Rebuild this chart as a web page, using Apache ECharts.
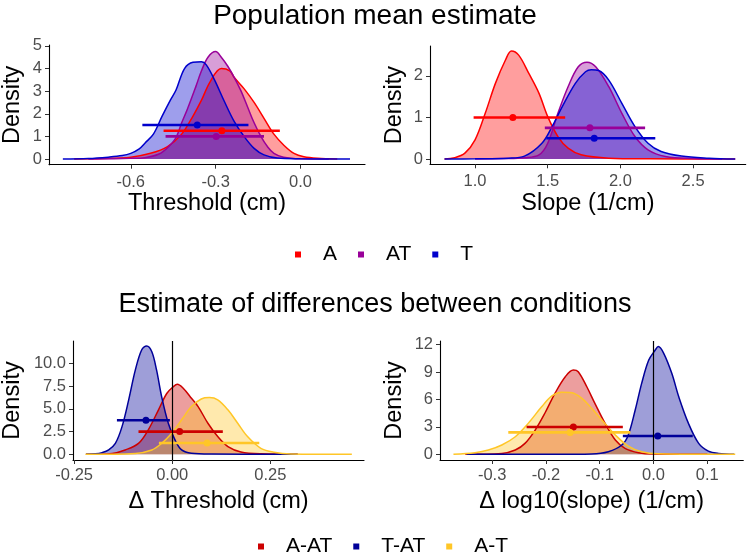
<!DOCTYPE html>
<html>
<head>
<meta charset="utf-8">
<script src="https://cdn.jsdelivr.net/npm/echarts@6/dist/echarts.min.js"></script>
<style>
  html, body { margin: 0; padding: 0; background: #fff; }
  #chart { width: 750px; height: 556px; }
</style>
</head>
<body>
<div id="chart"></div>
<script>
// ---- tick values ----
var ticksThrX = [-0.6, -0.3, 0.0];
var ticksThrY = [0, 1, 2, 3, 4, 5];
var ticksSlpX = [1.0, 1.5, 2.0, 2.5];
var ticksSlpY = [0, 1, 2];
var ticksDThrX = [-0.25, 0.0, 0.25];
var ticksDThrY = [0, 2.5, 5, 7.5, 10];
var ticksDSlpX = [-0.3, -0.2, -0.1, 0.0, 0.1];
var ticksDSlpY = [0, 3, 6, 9, 12];

// ---- groups ----
var groupsTop = ['A', 'AT', 'T'];
var groupsBot = ['A-AT', 'T-AT', 'A-T'];

// ---- densities, threshold ----
var thrA = [[-0.80, 0], [-0.70, 0.02], [-0.60, 0.08], [-0.53, 0.25], [-0.47, 0.55], [-0.42, 1.1], [-0.38, 1.9],
  [-0.35, 2.6], [-0.32, 3.4], [-0.28, 4.0], [-0.25, 3.9], [-0.234, 3.6], [-0.199, 3.1], [-0.164, 2.5],
  [-0.129, 1.8], [-0.094, 1.1], [-0.058, 0.6], [-0.023, 0.25], [0.012, 0.1], [0.06, 0.03], [0.13, 0]];
var thrAT = [[-0.75, 0], [-0.60, 0.03], [-0.55, 0.06], [-0.50, 0.22], [-0.47, 0.5], [-0.44, 0.95], [-0.42, 1.6],
  [-0.40, 2.2], [-0.37, 3.2], [-0.35, 3.9], [-0.327, 4.5], [-0.30, 4.75], [-0.28, 4.5], [-0.257, 4.1],
  [-0.234, 3.6], [-0.21, 3.0], [-0.187, 2.3], [-0.164, 1.6], [-0.14, 1.0], [-0.117, 0.55], [-0.094, 0.25],
  [-0.06, 0.08], [0.0, 0.01], [0.10, 0]];
var thrT = [[-0.84, 0], [-0.75, 0.02], [-0.68, 0.08], [-0.63, 0.15], [-0.60, 0.25], [-0.57, 0.45], [-0.55, 0.7],
  [-0.52, 1.1], [-0.49, 1.87], [-0.46, 2.6], [-0.44, 3.05], [-0.41, 4.0], [-0.38, 4.28], [-0.35, 4.3],
  [-0.333, 4.16], [-0.304, 3.5], [-0.269, 2.54], [-0.234, 1.65], [-0.199, 0.99], [-0.164, 0.47],
  [-0.129, 0.18], [-0.082, 0.04], [0.0, 0.01], [0.175, 0]];

// ---- densities, slope ----
var slpA = [[0.79, 0], [0.86, 0.03], [0.93, 0.14], [1.0, 0.46], [1.07, 1.1], [1.14, 1.82], [1.21, 2.39],
  [1.25, 2.6], [1.30, 2.5], [1.37, 2.06], [1.44, 1.58], [1.50, 1.02], [1.57, 0.54], [1.64, 0.26],
  [1.73, 0.1], [1.92, 0.02], [2.2, 0.005], [2.79, 0]];
var slpAT = [[1.0, 0], [1.2, 0.01], [1.34, 0.03], [1.44, 0.1], [1.50, 0.38], [1.57, 1.1], [1.64, 1.74],
  [1.71, 2.22], [1.77, 2.33], [1.83, 2.22], [1.92, 1.74], [2.01, 1.1], [2.10, 0.54], [2.19, 0.22],
  [2.31, 0.06], [2.5, 0.01], [2.7, 0]];
var slpT = [[0.79, 0], [1.0, 0.005], [1.23, 0.02], [1.34, 0.07], [1.46, 0.38], [1.53, 0.78], [1.60, 1.26],
  [1.69, 1.82], [1.76, 2.1], [1.80, 2.15], [1.85, 2.13], [1.92, 1.9], [2.01, 1.34], [2.10, 0.78],
  [2.19, 0.38], [2.28, 0.18], [2.42, 0.07], [2.61, 0.02], [2.79, 0]];

// ---- densities, delta threshold ----
var dThrAAT = [[-0.22, 0], [-0.153, 0.1], [-0.12, 0.48], [-0.086, 1.2], [-0.061, 2.7], [-0.035, 4.9],
  [-0.014, 6.7], [0.003, 7.46], [0.013, 7.72], [0.028, 7.28], [0.049, 6.18], [0.066, 5.26], [0.091, 3.42],
  [0.116, 1.95], [0.142, 0.85], [0.175, 0.26], [0.226, 0.05], [0.32, 0]];
var dThrTAT = [[-0.22, 0], [-0.196, 0.05], [-0.179, 0.18], [-0.162, 0.48], [-0.145, 1.2], [-0.128, 3.05],
  [-0.111, 6.0], [-0.094, 9.3], [-0.078, 11.5], [-0.065, 11.95], [-0.052, 11.3], [-0.040, 9.3],
  [-0.027, 6.36], [-0.010, 3.42], [0.007, 1.58], [0.024, 0.48], [0.049, 0.11], [0.1, 0.02], [0.32, 0]];
var dThrAT = [[-0.221, 0], [-0.094, 0.1], [-0.052, 0.48], [-0.027, 1.2], [-0.002, 2.3], [0.024, 3.8],
  [0.049, 5.26], [0.074, 6.1], [0.095, 6.25], [0.116, 6.0], [0.142, 4.9], [0.167, 3.42], [0.192, 1.95],
  [0.226, 0.66], [0.260, 0.22], [0.302, 0.04], [0.458, 0]];

// ---- densities, delta log10 slope ----
var dSlpAAT = [[-0.35, 0], [-0.282, 0.1], [-0.257, 0.47], [-0.239, 1.2], [-0.220, 2.66], [-0.202, 4.5],
  [-0.183, 6.7], [-0.164, 8.5], [-0.149, 9.23], [-0.140, 9.05], [-0.124, 7.4], [-0.109, 5.58],
  [-0.090, 3.39], [-0.071, 1.57], [-0.053, 0.66], [-0.028, 0.18], [0.0, 0.03], [0.10, 0]];
var dSlpTAT = [[-0.347, 0], [-0.2, 0.01], [-0.115, 0.05], [-0.084, 0.29], [-0.059, 1.02], [-0.047, 2.1],
  [-0.034, 4.85], [-0.022, 7.77], [-0.009, 10.3], [0.003, 11.4], [0.009, 11.8], [0.019, 11.06],
  [0.034, 8.87], [0.047, 6.3], [0.065, 3.39], [0.084, 1.2], [0.102, 0.36], [0.121, 0.1], [0.15, 0]];
var dSlpAT = [[-0.372, 0], [-0.332, 0.18], [-0.307, 0.47], [-0.282, 1.02], [-0.257, 1.93], [-0.233, 3.39],
  [-0.208, 5.2], [-0.189, 6.4], [-0.171, 6.8], [-0.152, 6.75], [-0.133, 6.13], [-0.115, 5.04],
  [-0.096, 3.76], [-0.071, 2.12], [-0.047, 0.91], [-0.022, 0.29], [0.009, 0.07], [0.152, 0]];

// ---- point + interval (order follows groups) ----
var thrMid = [-0.278, -0.298, -0.365];
var thrLo = [-0.484, -0.477, -0.559];
var thrHi = [-0.073, -0.129, -0.184];
var thrRow = [1.25, 1.0, 1.5];

var slpMid = [1.26, 1.79, 1.82];
var slpLo = [0.99, 1.48, 1.49];
var slpHi = [1.62, 2.17, 2.24];
var slpRow = [1.0, 0.75, 0.5];

var dThrMid = [0.019, -0.067, 0.089];
var dThrLo = [-0.086, -0.141, -0.034];
var dThrHi = [0.129, -0.006, 0.222];
var dThrRow = [2.5, 3.75, 1.25];

var dSlpMid = [-0.149, 0.008, -0.155];
var dSlpLo = [-0.236, -0.057, -0.270];
var dSlpHi = [-0.057, 0.073, -0.043];
var dSlpRow = [3.0, 2.0, 2.4];

var colorsTop = ['#FF0000', '#990099', '#0000CC'];
var colorsBot = ['#CC0000', '#000099', '#FFC627'];

var chart = echarts.init(document.getElementById('chart'));

function densitySeries(name, data, color, idx) {
  return {
    name: name, type: 'line', xAxisIndex: idx, yAxisIndex: idx,
    data: data, smooth: 0.35, showSymbol: false, z: 2,
    lineStyle: { color: color, width: 1.5 },
    itemStyle: { color: color },
    areaStyle: { color: color, opacity: 0.38 }
  };
}

function rangeSeries(name, lo, mid, hi, row, color, idx) {
  return [{
    name: name, type: 'line', xAxisIndex: idx, yAxisIndex: idx,
    data: [[lo, row], [hi, row]], showSymbol: false, z: 4,
    lineStyle: { color: color, width: 2.6 }, itemStyle: { color: color }
  }, {
    name: name, type: 'scatter', xAxisIndex: idx, yAxisIndex: idx,
    data: [[mid, row]], symbolSize: 7, z: 5, itemStyle: { color: color, opacity: 1 }
  }];
}

function xAx(idx, min, max, ticks, digits, name, margin, gap) {
  return {
    type: 'value', gridIndex: idx, min: min, max: max,
    name: name, nameLocation: 'middle', nameGap: gap,
    nameTextStyle: { fontSize: 23.5, color: '#000' },
    axisLine: { onZero: false, lineStyle: { color: '#000', width: 1.1 } },
    axisTick: { customValues: ticks, length: 4, lineStyle: { color: '#333' } },
    axisLabel: { customValues: ticks, fontSize: 16.5, color: '#4D4D4D', margin: margin,
      formatter: function (v) { return v.toFixed(digits); } },
    splitLine: { show: false }
  };
}

function yAx(idx, min, max, ticks, digits, gap) {
  return {
    type: 'value', gridIndex: idx, min: min, max: max,
    name: 'Density', nameLocation: 'middle', nameGap: gap,
    nameTextStyle: { fontSize: 23.5, color: '#000' },
    axisLine: { show: true, onZero: false, lineStyle: { color: '#000', width: 1.1 } },
    axisTick: { show: true, customValues: ticks, length: 4, lineStyle: { color: '#333' } },
    axisLabel: { customValues: ticks, fontSize: 16.5, color: '#4D4D4D', margin: 7,
      formatter: function (v) { return v.toFixed(digits); } },
    splitLine: { show: false }
  };
}

var series = [];
var densTop = [[thrA, thrAT, thrT], [slpA, slpAT, slpT]];
var densBot = [[dThrAAT, dThrTAT, dThrAT], [dSlpAAT, dSlpTAT, dSlpAT]];

groupsTop.forEach(function (g, i) { series.push(densitySeries(g, densTop[0][i], colorsTop[i], 0)); });
groupsTop.forEach(function (g, i) { series.push(densitySeries(g, densTop[1][i], colorsTop[i], 1)); });
groupsBot.forEach(function (g, i) { series.push(densitySeries(g, densBot[0][i], colorsBot[i], 2)); });
groupsBot.forEach(function (g, i) { series.push(densitySeries(g, densBot[1][i], colorsBot[i], 3)); });

groupsTop.forEach(function (g, i) {
  series = series.concat(rangeSeries(g, thrLo[i], thrMid[i], thrHi[i], thrRow[i], colorsTop[i], 0));
  series = series.concat(rangeSeries(g, slpLo[i], slpMid[i], slpHi[i], slpRow[i], colorsTop[i], 1));
});
groupsBot.forEach(function (g, i) {
  series = series.concat(rangeSeries(g, dThrLo[i], dThrMid[i], dThrHi[i], dThrRow[i], colorsBot[i], 2));
  series = series.concat(rangeSeries(g, dSlpLo[i], dSlpMid[i], dSlpHi[i], dSlpRow[i], colorsBot[i], 3));
});

// zero lines on the difference panels
[2, 3].forEach(function (idx) {
  series.push({
    type: 'line', xAxisIndex: idx, yAxisIndex: idx, data: [], z: 6,
    markLine: { silent: true, symbol: 'none', animation: false,
      label: { show: false },
      lineStyle: { color: '#000', width: 1.2, type: 'solid' },
      data: [{ xAxis: 0 }] }
  });
});

function legendData(names, colors) {
  return names.map(function (n, i) { return { name: n, icon: 'rect', itemStyle: { color: colors[i] } }; });
}

var option = {
  animation: false,
  backgroundColor: '#fff',
  textStyle: { fontFamily: 'Liberation Sans, Arial, sans-serif' },
  title: [
    { text: 'Population mean estimate', left: 'center', top: -3,
      textStyle: { fontSize: 28, fontWeight: 'normal', color: '#000' } },
    { text: 'Estimate of differences between conditions', left: 'center', top: 286,
      textStyle: { fontSize: 27, fontWeight: 'normal', color: '#000' } }
  ],
  legend: [
    { data: legendData(groupsTop, colorsTop), left: 295, top: 244, itemWidth: 6, itemHeight: 6,
      itemGap: 21, padding: 0, selectedMode: false,
      textStyle: { fontSize: 21, color: '#000', padding: [0, 0, 0, 17] } },
    { data: legendData(groupsBot, colorsBot), left: 258, top: 536, itemWidth: 6, itemHeight: 6,
      itemGap: 21, padding: 0, selectedMode: false,
      textStyle: { fontSize: 21, color: '#000', padding: [0, 0, 0, 17] } }
  ],
  grid: [
    { left: 46.7, top: 45, width: 318.3, height: 119.7 },
    { left: 430, top: 46, width: 315.7, height: 118.3 },
    { left: 70.7, top: 341, width: 293.3, height: 119 },
    { left: 440, top: 341, width: 303.3, height: 119 }
  ],
  xAxis: [
    xAx(0, -0.889, 0.228, ticksThrX, 1, 'Threshold (cm)', 9, 27),
    xAx(1, 0.690, 2.862, ticksSlpX, 1, 'Slope (1/cm)', 9, 27),
    xAx(2, -0.253, 0.489, ticksDThrX, 2, 'Δ Threshold (cm)', 7, 30),
    xAx(3, -0.397, 0.167, ticksDSlpX, 1, 'Δ log10(slope) (1/cm)', 7, 30)
  ],
  yAxis: [
    yAx(0, -0.252, 5.04, ticksThrY, 0, 24),
    yAx(1, -0.128, 2.72, ticksSlpY, 0, 23),
    yAx(2, -0.63, 12.49, ticksDThrY, 1, 48),
    yAx(3, -0.62, 12.41, ticksDSlpY, 0, 33)
  ],
  series: series
};

chart.setOption(option);
</script>
</body>
</html>
